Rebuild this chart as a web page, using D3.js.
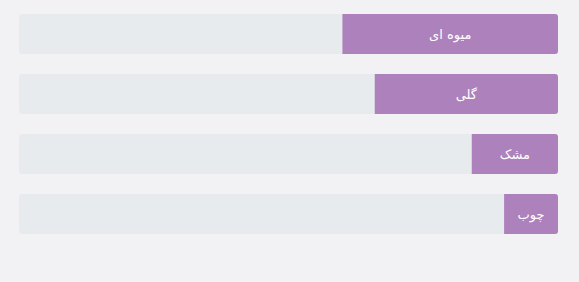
<!DOCTYPE html>
<html>
<head>
<meta charset="utf-8">
<script src="https://cdn.jsdelivr.net/npm/d3@7"></script>
<style>
  html, body { margin: 0; padding: 0; background: #f2f2f5; }
  svg { display: block; }
</style>
</head>
<body>
<svg width="579" height="282"></svg>
<script>
var categories = ["میوه ای", "گلی", "مشک", "چوب"];
var values = [40, 34, 16, 10];

var svg = d3.select("svg"),
    width = +svg.attr("width"),
    height = +svg.attr("height");

var margin = { left: 19, right: 21, top: 14 };
var barH = 40, step = 60;

// bars grow from the right edge (rtl)
var x = d3.scaleLinear()
    .domain([0, 100])
    .range([width - margin.right, margin.left]);

var y = d3.scaleBand()
    .domain(categories)
    .range([margin.top, margin.top + step * categories.length - (step - barH)])
    .paddingInner((step - barH) / step)
    .paddingOuter(0);

var rows = svg.append("g").selectAll("g")
    .data(categories.map(function (c, i) { return { name: c, value: values[i] }; }))
    .enter().append("g")
    .attr("transform", function (d) { return "translate(0," + y(d.name) + ")"; });

rows.append("rect")
    .attr("x", x(100))
    .attr("width", x(0) - x(100))
    .attr("height", y.bandwidth())
    .attr("rx", 3)
    .attr("fill", "#e8ebee");

// rounded on the right side only
rows.append("path")
    .attr("fill", "#ad81bb")
    .attr("d", function (d) {
        var x0 = x(d.value), x1 = x(0), h = y.bandwidth(), r = 3;
        return "M" + x0 + ",0H" + (x1 - r) + "Q" + x1 + ",0 " + x1 + "," + r +
            "V" + (h - r) + "Q" + x1 + "," + h + " " + (x1 - r) + "," + h +
            "H" + x0 + "Z";
    });

rows.append("text")
    .attr("x", function (d) { return (x(d.value) + x(0)) / 2; })
    .attr("y", y.bandwidth() / 2)
    .attr("dy", "0.35em")
    .attr("text-anchor", "middle")
    .attr("fill", "#ffffff")
    .attr("font-family", "'DejaVu Sans', sans-serif")
    .attr("font-size", 13)
    .text(function (d) { return d.name; });
</script>
</body>
</html>
